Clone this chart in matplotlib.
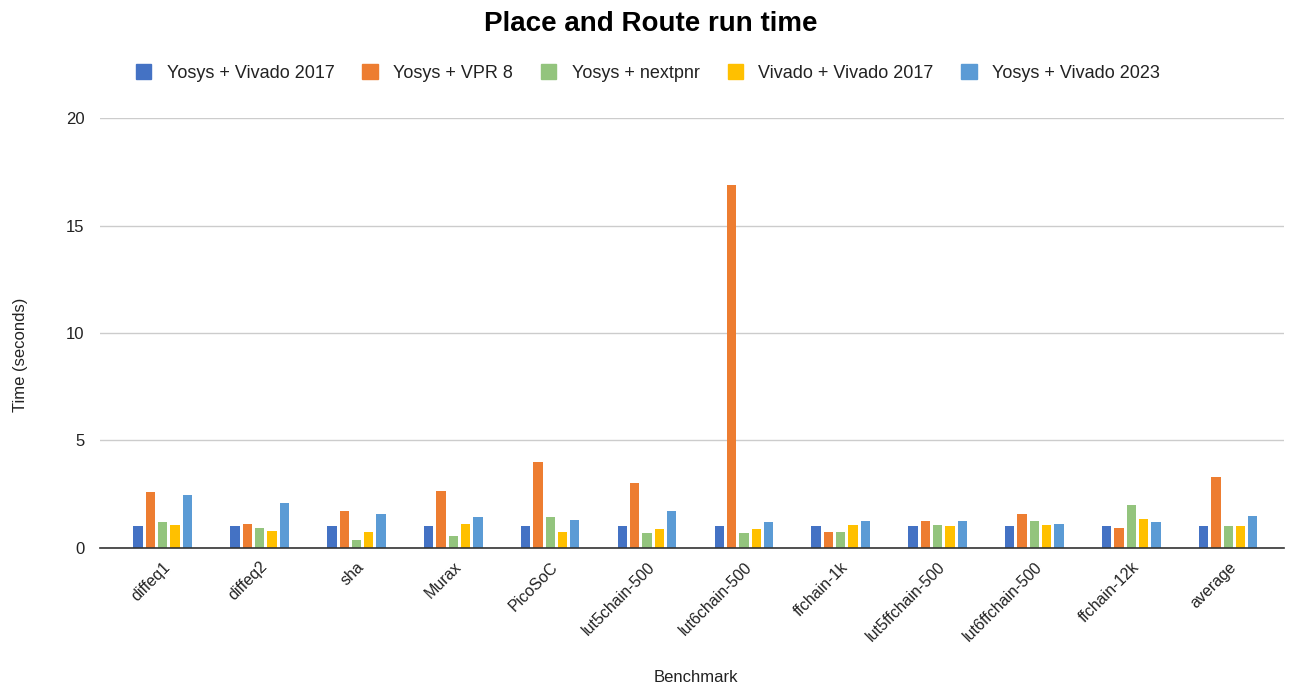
import matplotlib
matplotlib.use("Agg")
import matplotlib.pyplot as plt
import matplotlib.patches as mpatches
import numpy as np

plt.rcParams['font.family'] = ['Liberation Sans', 'DejaVu Sans']

benchmarks = ["diffeq1", "diffeq2", "sha", "Murax", "PicoSoC", "lut5chain-500",
              "lut6chain-500", "ffchain-1k", "lut5ffchain-500", "lut6ffchain-500",
              "ffchain-12k", "average"]
series_names = ["Yosys + Vivado 2017", "Yosys + VPR 8", "Yosys + nextpnr",
                "Vivado + Vivado 2017", "Yosys + Vivado 2023"]

yosys_vivado2017 = [1.0, 1.0, 1.0, 1.0, 1.0, 1.0, 1.0, 1.0, 1.0, 1.0, 1.0, 1.0]
yosys_vpr8 = [2.59, 1.1, 1.7, 2.65, 4.0, 3.04, 16.9, 0.75, 1.26, 1.59, 0.94, 3.3]
yosys_nextpnr = [1.2, 0.94, 0.35, 0.55, 1.45, 0.68, 0.68, 0.75, 1.07, 1.26, 1.98, 1.0]
vivado_vivado2017 = [1.05, 0.8, 0.75, 1.1, 0.75, 0.88, 0.88, 1.07, 1.0, 1.07, 1.33, 1.0]
yosys_vivado2023 = [2.47, 2.1, 1.6, 1.45, 1.3, 1.7, 1.19, 1.25, 1.26, 1.13, 1.19, 1.51]

series = [yosys_vivado2017, yosys_vpr8, yosys_nextpnr, vivado_vivado2017, yosys_vivado2023]
colors = ["#4472C4", "#ED7D31", "#93C47D", "#FFC000", "#5B9BD5"]

fig = plt.figure(figsize=(12.96, 6.89), dpi=100)
ax = fig.add_axes([0.077, 0.2047, 0.914, 0.624])

x = np.arange(len(benchmarks))
pitch = 0.127
width = 0.096
for i, (vals, c) in enumerate(zip(series, colors)):
    ax.bar(x + (i - 2) * pitch, vals, width=width, color=c, zorder=3)

ax.set_xlim(-0.65, 11.58)
ax.set_ylim(0, 20)
ax.set_yticks([0, 5, 10, 15, 20])
ax.yaxis.grid(True, color="#cccccc", linewidth=1, zorder=0)
ax.set_xticks(x)
ax.set_xticklabels(benchmarks, rotation=45, ha="right", rotation_mode="anchor",
                   fontsize=11.5, color="#222222")
ax.tick_params(axis="y", labelsize=12, labelcolor="#222222", length=0, pad=11)
ax.tick_params(axis="x", length=0, pad=8)
for s in ["top", "right", "left"]:
    ax.spines[s].set_visible(False)
ax.spines["bottom"].set_color("#333333")
ax.spines["bottom"].set_linewidth(1.2)
ax.spines["bottom"].set_zorder(4)

fig.text(0.502, 0.965, "Place and Route run time", ha="center", va="center",
         fontsize=20, fontweight="bold", color="#000000")
fig.text(0.537, 0.016, "Benchmark", ha="center", va="center", fontsize=12, color="#222222")
fig.text(0.016, 0.485, "Time (seconds)", ha="center", va="center", rotation=90,
         fontsize=12, color="#222222")

handles = [mpatches.Patch(color=c, label=n) for c, n in zip(colors, series_names)]
fig.legend(handles=handles, loc="center", bbox_to_anchor=(0.5, 0.894), ncol=5,
           frameon=False, fontsize=13, handlelength=0.85, handleheight=0.85,
           handletextpad=0.85, columnspacing=1.55, labelcolor="#222222")

fig.savefig("out.png", dpi=100)
